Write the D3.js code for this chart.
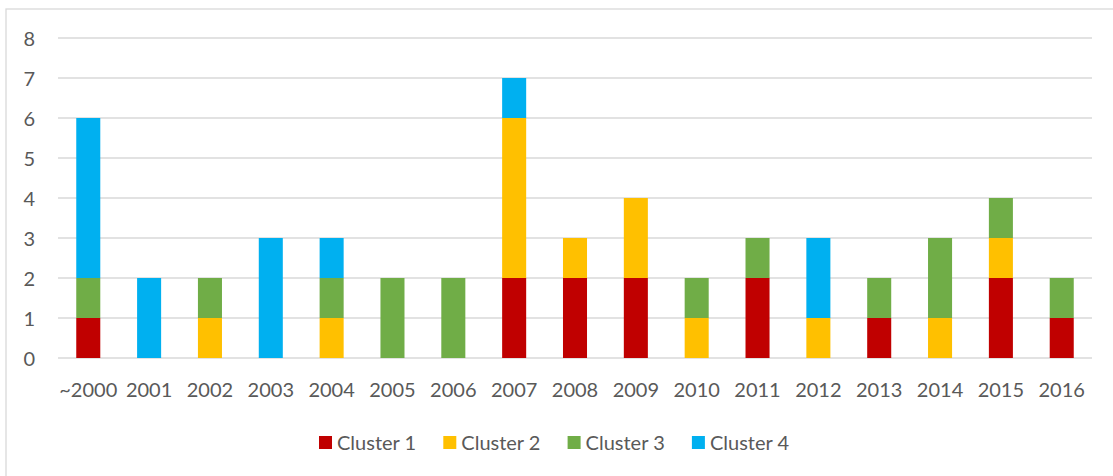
<!DOCTYPE html>
<html>
<head>
<meta charset="utf-8" />
<title>Clusters by year</title>
<style>
    body { margin: 0; background: #fff; }
    svg text { font-family: "Lato", "Open Sans", sans-serif; fill: #595959; }
</style>
</head>
<body>
<svg id="chart"></svg>
<script src="https://d3js.org/d3.v7.min.js"></script>
<script>
    // data
    const years = ["~2000", "2001", "2002", "2003", "2004", "2005", "2006", "2007", "2008",
        "2009", "2010", "2011", "2012", "2013", "2014", "2015", "2016"];
    const seriesNames = ["Cluster 1", "Cluster 2", "Cluster 3", "Cluster 4"];
    const cluster1 = [1, 0, 0, 0, 0, 0, 0, 2, 2, 2, 0, 2, 0, 1, 0, 2, 1];
    const cluster2 = [0, 0, 1, 0, 1, 0, 0, 4, 1, 2, 1, 0, 1, 0, 1, 1, 0];
    const cluster3 = [1, 0, 1, 0, 1, 2, 2, 0, 0, 0, 1, 1, 0, 1, 2, 1, 1];
    const cluster4 = [4, 2, 0, 3, 1, 0, 0, 1, 0, 0, 0, 0, 2, 0, 0, 0, 0];
    const yTicks = [0, 1, 2, 3, 4, 5, 6, 7, 8];
    const colors = ["#C00000", "#FFC000", "#70AD47", "#00B0F0"];

    const width = 1113, height = 476;
    const margin = { top: 38, right: 21, bottom: 118, left: 58 };

    const svg = d3.select("#chart")
        .attr("width", width)
        .attr("height", height);

    // chart area border
    svg.append("rect")
        .attr("x", 6).attr("y", 9)
        .attr("width", width + 10).attr("height", height + 10)
        .attr("fill", "none")
        .attr("stroke", "#d9d9d9")
        .attr("stroke-width", 1.3);

    const table = years.map((y, i) => ({
        year: y,
        "Cluster 1": cluster1[i],
        "Cluster 2": cluster2[i],
        "Cluster 3": cluster3[i],
        "Cluster 4": cluster4[i]
    }));

    const stacked = d3.stack().keys(seriesNames)(table);

    const x = d3.scaleBand()
        .domain(years)
        .range([margin.left, width - margin.right])
        .paddingInner(0.605)
        .paddingOuter(0.3);

    const y = d3.scaleLinear()
        .domain([0, 8])
        .range([height - margin.bottom, margin.top]);

    // gridlines
    svg.append("g")
        .selectAll("line")
        .data(yTicks)
        .join("line")
        .attr("x1", margin.left)
        .attr("x2", width - margin.right)
        .attr("y1", d => y(d))
        .attr("y2", d => y(d))
        .attr("stroke", "#d9d9d9")
        .attr("stroke-width", 1.3);

    // y labels
    svg.append("g")
        .selectAll("text")
        .data(yTicks)
        .join("text")
        .attr("x", 35)
        .attr("y", d => y(d) + 7.5)
        .attr("text-anchor", "end")
        .style("font-size", "20px")
        .text(d => d);

    // bars
    svg.append("g")
        .selectAll("g")
        .data(stacked)
        .join("g")
        .attr("fill", (d, i) => colors[i])
        .selectAll("rect")
        .data(d => d)
        .join("rect")
        .attr("x", d => x(d.data.year))
        .attr("width", x.bandwidth())
        .attr("y", d => y(d[1]))
        .attr("height", d => y(d[0]) - y(d[1]));

    // x labels
    svg.append("g")
        .selectAll("text")
        .data(years)
        .join("text")
        .attr("x", d => x(d) + x.bandwidth() / 2)
        .attr("y", 397)
        .attr("text-anchor", "middle")
        .style("font-size", "20px")
        .text(d => d);

    // legend
    const legend = svg.append("g")
        .selectAll("g")
        .data(seriesNames)
        .join("g")
        .attr("transform", (d, i) => "translate(" + (319 + i * 124.3) + ",436)");

    legend.append("rect")
        .attr("width", 13)
        .attr("height", 13)
        .attr("fill", (d, i) => colors[i]);

    legend.append("text")
        .attr("x", 18)
        .attr("y", 14)
        .style("font-size", "20px")
        .text(d => d);
</script>
</body>
</html>
